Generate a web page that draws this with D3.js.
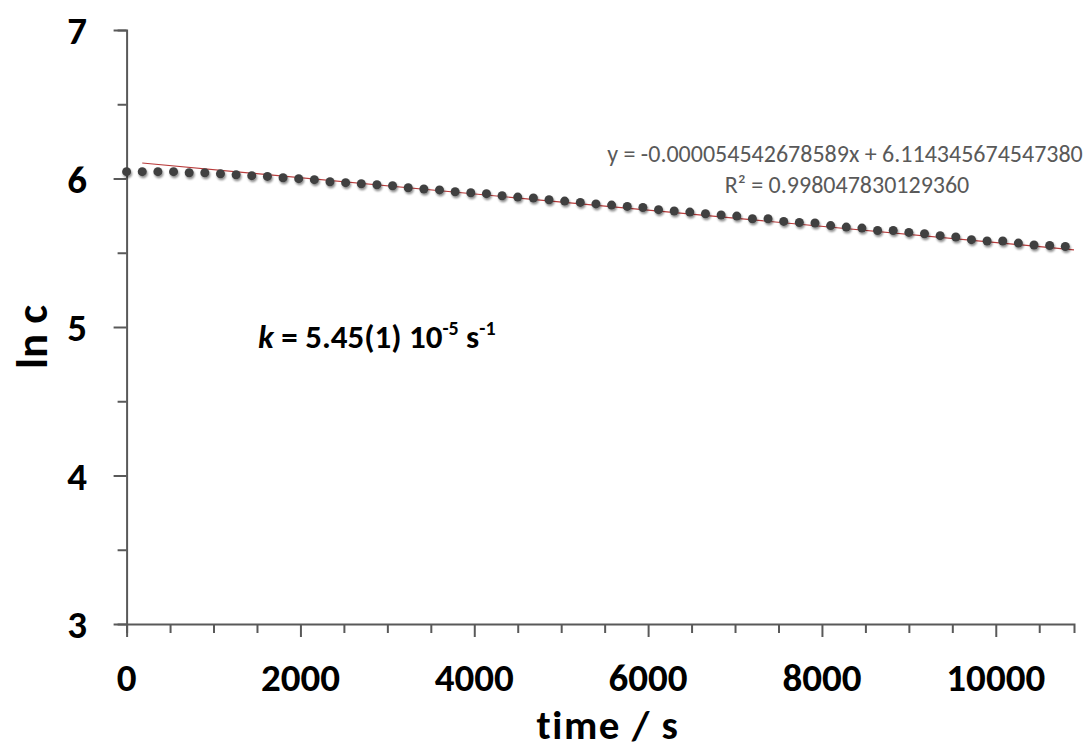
<!DOCTYPE html>
<html>
<head>
<meta charset="utf-8">
<script src="https://cdn.jsdelivr.net/npm/d3@7"></script>
<style>
  body { margin: 0; background: #fff; }
  text { font-family: Carlito, Lato, sans-serif; }
</style>
</head>
<body>
<script>
// chart data
const times = [0, 180, 360, 540, 720, 900, 1080, 1260, 1440, 1620,
  1800, 1980, 2160, 2340, 2520, 2700, 2880, 3060, 3240, 3420,
  3600, 3780, 3960, 4140, 4320, 4500, 4680, 4860, 5040, 5220,
  5400, 5580, 5760, 5940, 6120, 6300, 6480, 6660, 6840, 7020,
  7200, 7380, 7560, 7740, 7920, 8100, 8280, 8460, 8640, 8820,
  9000, 9180, 9360, 9540, 9720, 9900, 10080, 10260, 10440, 10620, 10800];
const lnc = [6.046, 6.046, 6.046, 6.046, 6.039, 6.039, 6.032, 6.025, 6.019, 6.014,
  6.005, 5.999, 5.992, 5.978, 5.972, 5.965, 5.958, 5.951, 5.938, 5.929,
  5.923, 5.911, 5.904, 5.898, 5.884, 5.875, 5.869, 5.857, 5.848, 5.839,
  5.829, 5.821, 5.812, 5.805, 5.790, 5.781, 5.774, 5.763, 5.754, 5.747,
  5.729, 5.729, 5.711, 5.704, 5.700, 5.683, 5.673, 5.666, 5.650, 5.650,
  5.637, 5.628, 5.615, 5.606, 5.588, 5.579, 5.579, 5.565, 5.552, 5.549, 5.542];

// linear fit shown on the chart
const slope = -0.000054542678589;
const intercept = 6.114345674547380;
const trendRange = [180, 10900];

const xTicks = [0, 2000, 4000, 6000, 8000, 10000];
const yTicks = [3, 4, 5, 6, 7];
const eqLabel = "y = -0.000054542678589x + 6.114345674547380";
const r2Value = "0.998047830129360";

// size of the picture
const svg_width = 1092;
const svg_height = 749;

const svg = d3.select('body')
    .append('svg')
    .attr('width', svg_width)
    .attr('height', svg_height);

const x = d3.scaleLinear().domain([0, 10900]).range([126.6, 1074]);
const y = d3.scaleLinear().domain([3, 7]).range([624, 30]);

const axisColor = '#595959';

// marker shadow like the spreadsheet one
const defs = svg.append('defs');
const shadow = defs.append('filter').attr('id', 'shadow')
    .attr('x', '-50%').attr('y', '-50%').attr('width', '200%').attr('height', '200%');
shadow.append('feGaussianBlur').attr('in', 'SourceAlpha').attr('stdDeviation', 1.2);
shadow.append('feOffset').attr('dx', 1).attr('dy', 1.5).attr('result', 'off');
shadow.append('feComponentTransfer').append('feFuncA').attr('type', 'linear').attr('slope', 0.45);
const merge = shadow.append('feMerge');
merge.append('feMergeNode');
merge.append('feMergeNode').attr('in', 'SourceGraphic');

// y axis with minor ticks every 0.5
const yAxis = svg.append('g').attr('transform', `translate(${x(0)},0)`)
    .call(d3.axisLeft(y).tickValues(d3.range(3, 7.01, 0.5)).tickSize(9).tickFormat(''));
yAxis.selectAll('.tick line').filter(d => d % 1 === 0).attr('x2', -13);

// x axis with minor ticks every 500
const xAxis = svg.append('g').attr('transform', `translate(0,${y(3)})`)
    .call(d3.axisBottom(x).tickValues(d3.range(0, 10900, 500)).tickSize(9).tickFormat(''));
xAxis.selectAll('.tick line').filter(d => d % 2000 === 0).attr('y2', 13);

[yAxis, xAxis].forEach(g => {
    g.select('.domain').attr('stroke', axisColor).attr('stroke-width', 2);
    g.selectAll('.tick line').attr('stroke', axisColor).attr('stroke-width', 2);
});

// tick labels
svg.append('g').selectAll('text').data(yTicks).enter().append('text')
    .attr('x', 87)
    .attr('y', d => y(d))
    .attr('dy', '0.36em')
    .attr('text-anchor', 'end')
    .attr('font-size', 39)
    .attr('font-weight', 'bold')
    .text(d => d);

svg.append('g').selectAll('text').data(xTicks).enter().append('text')
    .attr('x', d => x(d))
    .attr('y', 691)
    .attr('text-anchor', 'middle')
    .attr('font-size', 39)
    .attr('font-weight', 'bold')
    .text(d => d);

// axis titles
svg.append('text')
    .attr('x', 608).attr('y', 739)
    .attr('text-anchor', 'middle')
    .attr('font-size', 41)
    .attr('letter-spacing', 1.5)
    .attr('font-weight', 'bold')
    .text('time / s');

svg.append('text')
    .attr('transform', 'translate(47,337) rotate(-90)')
    .attr('text-anchor', 'middle')
    .attr('font-size', 45)
    .attr('font-weight', 'bold')
    .text('ln c');

// trendline
svg.append('line')
    .attr('x1', x(trendRange[0])).attr('y1', y(slope * trendRange[0] + intercept))
    .attr('x2', x(trendRange[1])).attr('y2', y(slope * trendRange[1] + intercept))
    .attr('stroke', '#b83b3b')
    .attr('stroke-width', 1.2);

// data points
svg.append('g').attr('filter', 'url(#shadow)')
    .selectAll('circle').data(times).enter().append('circle')
    .attr('cx', d => x(d))
    .attr('cy', (d, i) => y(lnc[i]))
    .attr('r', 4.5)
    .attr('fill', '#404040');

// fit equation
svg.append('text')
    .attr('x', 845).attr('y', 162)
    .attr('text-anchor', 'middle')
    .attr('font-size', 24)
    .attr('fill', '#595959')
    .text(eqLabel);

svg.append('text')
    .attr('x', 847).attr('y', 193)
    .attr('text-anchor', 'middle')
    .attr('font-size', 24)
    .attr('fill', '#595959')
    .text(`R² = ${r2Value}`);

// rate constant note
const kText = svg.append('text')
    .attr('x', 258).attr('y', 348)
    .attr('font-size', 33)
    .attr('font-weight', 'bold');
kText.append('tspan').attr('font-style', 'italic').text('k');
kText.append('tspan').text(' = 5.45(1) 10');
kText.append('tspan').attr('font-size', 20).attr('dy', -13).text('-5');
kText.append('tspan').attr('dy', 13).text(' s');
kText.append('tspan').attr('font-size', 20).attr('dy', -13).text('-1');
</script>
</body>
</html>
